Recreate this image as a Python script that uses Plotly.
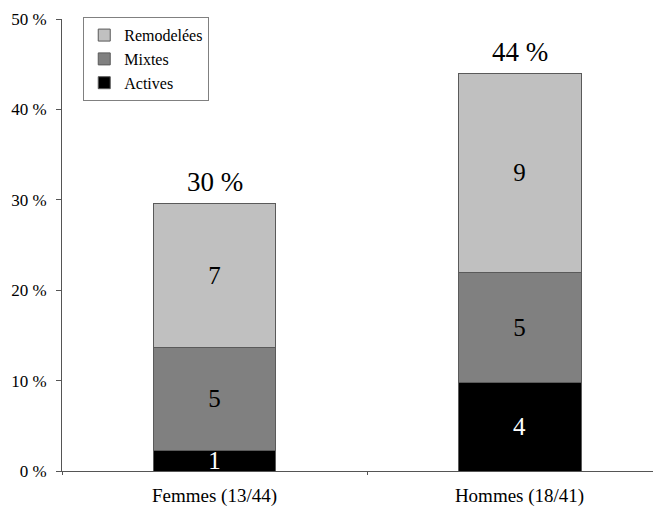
import plotly.graph_objects as go

categories = ["Femmes (13/44)", "Hommes (18/41)"]
series_names = ["Actives", "Mixtes", "Remodelées"]
actives_pct = [2.3, 9.8]
mixtes_pct = [11.4, 12.2]
remod_pct = [15.9, 22.0]
actives_n = ["1", "4"]
mixtes_n = ["5", "5"]
remod_n = ["7", "9"]
total_labels = ["30 %", "44 %"]
ytick_vals = [0, 10, 20, 30, 40, 50]
ytick_text = ["0 %", "10 %", "20 %", "30 %", "40 %", "50 %"]

colors = ["#000000", "#808080", "#c0c0c0"]
text_colors = ["#ffffff", "#000000", "#000000"]
serif = "Liberation Serif, Times New Roman, serif"

fig = go.Figure()
for name, vals, labels, col, tcol in zip(series_names,
                                         [actives_pct, mixtes_pct, remod_pct],
                                         [actives_n, mixtes_n, remod_n],
                                         colors, text_colors):
    fig.add_trace(go.Bar(
        x=categories, y=vals, name=name, text=labels,
        textposition="inside", insidetextanchor="middle", textangle=0,
        constraintext="none",
        textfont=dict(family=serif, size=25, color=tcol),
        marker=dict(color=col, line=dict(color="#5a5a5a", width=1)),
        width=0.403,
    ))

totals = [a + m + r for a, m, r in zip(actives_pct, mixtes_pct, remod_pct)]
for cat, tot, lab in zip(categories, totals, total_labels):
    fig.add_annotation(x=cat, y=tot, text=lab, showarrow=False,
                       yanchor="bottom", yshift=4,
                       font=dict(family=serif, size=27, color="#000000"))

fig.update_layout(
    width=661, height=511,
    margin=dict(l=54, r=0, t=11, b=48),
    barmode="stack",
    plot_bgcolor="white", paper_bgcolor="white",
    font=dict(family=serif, color="#000000"),
    showlegend=True,
    legend=dict(x=0.035, y=1.004, xanchor="left", yanchor="top",
                traceorder="reversed", bordercolor="#808080", borderwidth=1,
                bgcolor="white", font=dict(family=serif, size=16),
                itemwidth=30, tracegroupgap=0),
    xaxis=dict(range=[-0.5, 1.49], showline=True, linecolor="#555555",
               linewidth=1, ticks="outside", ticklen=3, tickcolor="#555555",
               tickson="boundaries", showgrid=False,
               tickfont=dict(family=serif, size=19), ticklabelstandoff=7),
    yaxis=dict(range=[0, 50], showline=True, linecolor="#555555", linewidth=1,
               ticks="outside", ticklen=5, tickcolor="#555555",
               tickvals=ytick_vals, ticktext=ytick_text, showgrid=False,
               zeroline=False, tickfont=dict(family=serif, size=17),
               ticklabelstandoff=6),
)

fig.write_html("out.html")
